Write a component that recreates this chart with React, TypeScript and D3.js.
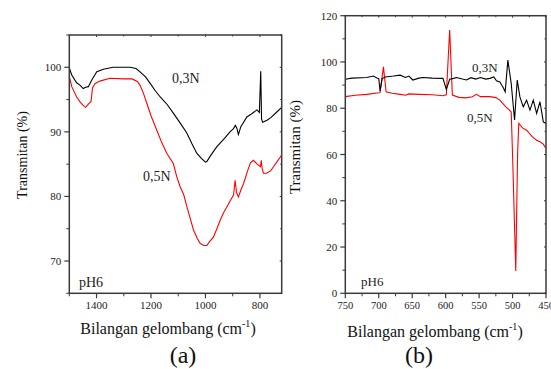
import React from "react";
import * as d3 from "d3";

// ---------- data ----------
const leftWave03 = [1500,1491,1473,1460,1449,1440,1430,1418,1399,1375,1339,1277,1255,1240,1220,1203,1185,1166,1140,1118,1090,1068,1050,1032,1015,1000,995,980,958,930,910,897,890,885,879,870,848,830,811,802,797,794,790,774,760,740,725,720];
const leftT03 = [99.9,98.8,97.6,97.2,96.7,96.9,97.0,98.0,99.3,99.7,100.0,100.0,99.8,99.3,98.5,97.5,96.4,95.4,94.2,92.9,91.2,89.8,88.2,86.7,85.9,85.3,85.4,86.4,87.7,89.0,90.0,90.5,91.0,90.6,89.6,90.8,92.3,92.8,93.4,93.0,99.4,92.0,91.5,91.8,92.2,93.0,93.6,93.8];

const leftWave05 = [1500,1491,1473,1460,1449,1440,1430,1420,1415,1405,1385,1350,1300,1270,1250,1240,1228,1215,1200,1179,1160,1142,1118,1105,1093,1080,1068,1056,1044,1030,1019,1005,995,985,971,958,946,933,921,908,897,891,886,879,870,860,845,835,824,810,798,795,792,787,775,760,750,735,725,720];
const leftT05 = [98.6,97.0,95.4,94.6,94.1,93.8,94.3,94.7,96.8,97.5,97.9,98.3,98.2,98.2,97.8,97.2,96.0,94.4,92.5,90.3,88.3,86.7,85.1,83.0,81.5,80.3,78.4,76.6,74.8,73.5,72.7,72.4,72.4,73.0,73.7,75.0,76.3,77.5,78.4,79.4,80.2,82.5,80.6,79.9,81.0,82.0,84.0,85.2,85.6,85.0,84.6,85.6,84.4,83.6,83.6,84.0,84.6,85.5,86.1,86.4];

const rightWave03 = [750,740,725,718,708,702,700,698,695,690,678,668,660,655,649,640,634,620,604,599,594,588,584,575,569,562,555,548,540,534,528,524,519,514,511,507,502,497,493,489,484,479,474,469,464,459,454,450];
const rightT03 = [92.5,93.0,93.2,93.3,93.9,93.0,92.8,87.5,92.8,93.5,93.9,94.3,93.3,93.9,92.2,93.0,93.3,93.0,92.9,88.1,92.5,92.9,93.3,92.6,92.2,93.2,92.6,93.3,92.6,92.9,93.5,91.9,91.4,89.0,87.1,100.8,90.7,74.9,92.2,84.9,80.6,83.5,79.2,83.5,77.8,82.8,74.1,73.4];

const rightWave05 = [750,735,718,700,698,693,689,680,668,660,655,640,620,604,599,594,590,580,570,560,554,548,534,525,519,510,502,499.5,495.2,492.5,490.7,485,479,470,464,459,454,450];
const rightT05 = [85.0,85.6,86.0,86.7,86.8,97.9,87.1,86.5,86.0,85.6,86.2,86.0,85.8,85.4,85.8,113.8,85.7,84.7,84.5,85.0,86.0,85.0,85.0,84.6,83.5,80.6,78.4,55,9.6,60,73.4,71.5,70.5,67.5,66.2,65.5,64.5,62.6];

const leftXMajor = [1400, 1200, 1000, 800];
const leftXMinor = [1500, 1300, 1100, 900];
const leftYMajor = [70, 80, 90, 100];
const leftYMinor = [65, 75, 85, 95, 105];
const rightXMajor = [750, 700, 650, 600, 550, 500, 450];
const rightXMinor = [725, 675, 625, 575, 525, 475];
const rightYMajor = [0, 20, 40, 60, 80, 100, 120];
const rightYMinor = [10, 30, 50, 70, 90, 110];

const FONT = "'Liberation Serif', 'DejaVu Serif', serif";
const AX = "#3a3a3a";

type Panel = {
  x: d3.ScaleLinear<number, number>;
  y: d3.ScaleLinear<number, number>;
  xMajor: number[]; xMinor: number[]; yMajor: number[]; yMinor: number[];
  tickFont: number;
};

function Axes({ p }: { p: Panel }) {
  const [x0, x1] = p.x.range();
  const [y0, y1] = p.y.range(); // y0 bottom, y1 top
  const l = Math.min(x0, x1), r = Math.max(x0, x1);
  return (
    <g>
      {p.xMajor.map((v) => (
        <g key={"xM" + v}>
          <line x1={p.x(v)} x2={p.x(v)} y1={y0} y2={y0 + 5} stroke={AX} strokeWidth={1.2} />
          <line x1={p.x(v)} x2={p.x(v)} y1={y1} y2={y1 + 2} stroke={AX} strokeWidth={1} />
          <text x={p.x(v)} y={y0 + 16} textAnchor="middle" fontSize={p.tickFont} fontFamily={FONT} fill="#222">{v}</text>
        </g>
      ))}
      {p.xMinor.map((v) => (
        <g key={"xm" + v}>
          <line x1={p.x(v)} x2={p.x(v)} y1={y0} y2={y0 + 3} stroke={AX} strokeWidth={1} />
          <line x1={p.x(v)} x2={p.x(v)} y1={y1} y2={y1 + 1.5} stroke={AX} strokeWidth={1} />
        </g>
      ))}
      {p.yMajor.map((v) => (
        <g key={"yM" + v}>
          <line x1={l - 5} x2={l} y1={p.y(v)} y2={p.y(v)} stroke={AX} strokeWidth={1.2} />
          <line x1={r - 2} x2={r} y1={p.y(v)} y2={p.y(v)} stroke={AX} strokeWidth={1} />
          <text x={l - 8} y={p.y(v) + 4} textAnchor="end" fontSize={11} fontFamily={FONT} fill="#222">{v}</text>
        </g>
      ))}
      {p.yMinor.map((v) => (
        <g key={"ym" + v}>
          <line x1={l - 3} x2={l} y1={p.y(v)} y2={p.y(v)} stroke={AX} strokeWidth={1} />
          <line x1={r - 1.5} x2={r} y1={p.y(v)} y2={p.y(v)} stroke={AX} strokeWidth={1} />
        </g>
      ))}
      <rect x={l} y={y1} width={r - l} height={y0 - y1} fill="none" stroke={AX} strokeWidth={1.5} />
    </g>
  );
}

function series(p: Panel, w: number[], t: number[]) {
  const pts: [number, number][] = w.map((v, i) => [v, t[i]]);
  return d3.line<[number, number]>().x((d) => p.x(d[0])).y((d) => p.y(d[1]))(pts) || "";
}

export default function App() {
  const L: Panel = {
    x: d3.scaleLinear().domain([1500, 720]).range([69.3, 281.7]),
    y: d3.scaleLinear().domain([65, 105]).range([293.3, 35]),
    xMajor: leftXMajor, xMinor: leftXMinor, yMajor: leftYMajor, yMinor: leftYMinor,
    tickFont: 11,
  };
  const R: Panel = {
    x: d3.scaleLinear().domain([750, 450]).range([345.3, 546]),
    y: d3.scaleLinear().domain([0, 120]).range([293.3, 15.7]),
    xMajor: rightXMajor, xMinor: rightXMinor, yMajor: rightYMajor, yMinor: rightYMinor,
    tickFont: 10.5,
  };
  return (
    <svg width={551} height={369} style={{ position: "absolute", left: 0, top: 0, background: "#fff" }}>
      <rect width={551} height={369} fill="#fff" />
      <defs>
        <clipPath id="clipL"><rect x={69.3} y={35} width={212.4} height={258.3} /></clipPath>
        <clipPath id="clipR"><rect x={345.3} y={15.7} width={200.7} height={277.6} /></clipPath>
      </defs>
      {/* left panel */}
      <g>
        <g clipPath="url(#clipL)">
          <path d={series(L, leftWave05, leftT05)} fill="none" stroke="#ff0000" strokeWidth={1.1} />
          <path d={series(L, leftWave03, leftT03)} fill="none" stroke="#000" strokeWidth={1.1} />
        </g>
        <Axes p={L} />
        <text x={172} y={83} fontSize={14} fontFamily={FONT} fill="#222">0,3N</text>
        <text x={143} y={181} fontSize={14} fontFamily={FONT} fill="#222">0,5N</text>
        <text x={79} y={287} fontSize={14} fontFamily={FONT} fill="#222">pH6</text>
        <text transform="translate(27,155) rotate(-90)" textAnchor="middle" fontSize={14} fontFamily={FONT} fill="#111">Transmitan (%)</text>
        <text x={168} y={334} textAnchor="middle" fontSize={16} fontFamily={FONT} fill="#111">
          Bilangan gelombang (cm<tspan fontSize={10} dy={-7}>-1</tspan><tspan dy={7}>)</tspan>
        </text>
        <text x={183} y={363} textAnchor="middle" fontSize={24} fontFamily={FONT} fill="#111">(a)</text>
      </g>
      {/* right panel */}
      <g>
        <g clipPath="url(#clipR)">
          <path d={series(R, rightWave05, rightT05)} fill="none" stroke="#ff0000" strokeWidth={1.1} />
          <path d={series(R, rightWave03, rightT03)} fill="none" stroke="#000" strokeWidth={1.1} />
        </g>
        <Axes p={R} />
        <text x={472} y={72} fontSize={13} fontFamily={FONT} fill="#222">0,3N</text>
        <text x={467} y={122} fontSize={13} fontFamily={FONT} fill="#222">0,5N</text>
        <text x={361} y={286} fontSize={13} fontFamily={FONT} fill="#222">pH6</text>
        <text transform="translate(300,147) rotate(-90)" textAnchor="middle" fontSize={15} fontFamily={FONT} fill="#111">Transmitan (%)</text>
        <text x={435} y={337} textAnchor="middle" fontSize={16} fontFamily={FONT} fill="#111">
          Bilangan gelombang (cm<tspan fontSize={10} dy={-7}>-1</tspan><tspan dy={7}>)</tspan>
        </text>
        <text x={419} y={363} textAnchor="middle" fontSize={24} fontFamily={FONT} fill="#111">(b)</text>
      </g>
    </svg>
  );
}
